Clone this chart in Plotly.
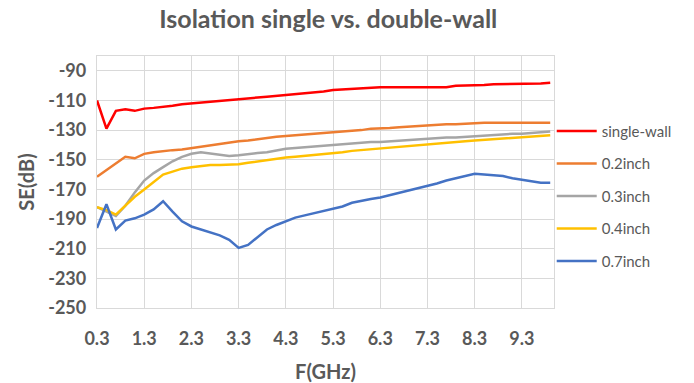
import plotly.graph_objects as go

freq = [round(0.3 + 0.2 * i, 1) for i in range(49)]

single_wall = [-110, -129, -117, -116, -117, -115.5, -115, -114.5, -113.5, -112.5,
               -112, -111.5, -111, -110.5, -110, -109.5, -109, -108, -107.5, -107,
               -106, -105.5, -105, -104.5, -104, -103, -102.5, -102, -101.5, -101,
               -101, -101, -101, -101, -101, -101, -101, -101, -100, -100,
               -100, -99.5, -99, -99, -99, -99, -99, -98.5, -98]

inch_02 = [-161.5, -157, -153, -148, -149, -146, -145, -144, -143.5, -143,
           -142, -141, -140, -139, -138, -137.5, -137, -136, -135.5, -134.5,
           -134, -133.5, -133, -132.5, -132, -131.5, -131, -130.5, -130, -129,
           -128.5, -128.5, -128, -127.5, -127, -127, -126, -126, -126, -125.5,
           -125, -125, -125, -125, -125, -125, -125, -125, -125]

inch_03 = [-182, -185, -188, -181, -172, -164, -159, -155, -151, -148,
           -146, -145, -146, -147, -147.5, -147, -146, -145.5, -145, -143.5,
           -142.5, -142, -141.5, -141, -140.5, -140, -139.5, -139, -138.5, -138,
           -138, -137.5, -137, -136.5, -136, -135.5, -135.5, -135, -135, -134.5,
           -134.5, -134, -133.5, -133, -132.5, -132.5, -132, -131.5, -131]

inch_04 = [-182, -184, -187, -181, -175, -170, -165, -160, -158, -156,
           -155, -154, -153.5, -153.5, -153.5, -153, -152, -151, -150, -149,
           -148.5, -148, -147.5, -146.5, -146, -145.5, -145, -144, -143.5, -143,
           -142.5, -142, -141.5, -141, -140.5, -140, -139.5, -139, -138, -137.5,
           -137, -136.5, -136, -135.5, -135.5, -135, -134.5, -134, -133.5]

inch_07 = [-196, -180, -197, -191, -189.5, -187, -183.5, -178, -185, -191.5,
           -195, -197, -199, -201, -204, -209.5, -207.5, -202, -197, -194,
           -191.5, -189, -187.5, -186, -184.5, -183, -181.5, -179, -177.5, -176.5,
           -175.5, -174, -172, -170.5, -169, -167.5, -166, -164, -162.5, -161,
           -159.5, -160, -160.5, -161, -162.5, -163.5, -165, -165.5, -165.5]

series_names = ["single-wall", "0.2inch", "0.3inch", "0.4inch", "0.7inch"]
series_values = [single_wall, inch_02, inch_03, inch_04, inch_07]
series_colors = ["#FF0000", "#ED7D31", "#A5A5A5", "#FFC000", "#4472C4"]

x_tick_vals = [0.3, 1.3, 2.3, 3.3, 4.3, 5.3, 6.3, 7.3, 8.3, 9.3]
x_tick_text = ["0.3", "1.3", "2.3", "3.3", "4.3", "5.3", "6.3", "7.3", "8.3", "9.3"]
y_tick_vals = [-250, -230, -210, -190, -170, -150, -130, -110, -90]
y_tick_text = ["-250", "-230", "-210", "-190", "-170", "-150", "-130", "-110", "-90"]

TEXT = "#595959"
GRID = "#D9D9D9"
FONT = "Lato, 'Open Sans', sans-serif"

fig = go.Figure()
for name, vals, col in zip(series_names, series_values, series_colors):
    fig.add_trace(go.Scatter(x=freq, y=vals, mode="lines", name=name,
                             legendgroup=name,
                             line=dict(color=col, width=2.5)))

fig.update_layout(
    width=694, height=383,
    margin=dict(l=97, r=140, t=56, b=75),
    paper_bgcolor="white", plot_bgcolor="white",
    font=dict(family=FONT, color=TEXT),
    title=dict(text="<b>Isolation single vs. double-wall</b>",
               x=0.473, xanchor="center", y=0.95, yanchor="middle",
               font=dict(size=25, color=TEXT, family=FONT)),
    showlegend=True,
    legend=dict(x=0.995, xanchor="left", y=0.767, yanchor="top",
                font=dict(size=15, color=TEXT, family=FONT),
                tracegroupgap=10, itemwidth=40,
                bgcolor="rgba(0,0,0,0)"),
    xaxis=dict(range=[0.3, 9.98], tickvals=x_tick_vals,
               ticktext=["<b>" + t + "</b>" for t in x_tick_text],
               showgrid=True, gridcolor=GRID, gridwidth=1.3,
               showline=True, linecolor=GRID, linewidth=1.3, mirror=True,
               zeroline=False, automargin=False,
               ticks="outside", ticklen=14, tickcolor="rgba(0,0,0,0)",
               tickfont=dict(size=18, color=TEXT, family=FONT),
               title=dict(text="<b>F(GHz)</b>", standoff=18,
                          font=dict(size=20, color=TEXT, family=FONT))),
    yaxis=dict(range=[-250, -80], tickvals=y_tick_vals,
               ticktext=["<b>" + t + "</b>" for t in y_tick_text],
               showgrid=True, gridcolor=GRID, gridwidth=1.3,
               showline=True, linecolor=GRID, linewidth=1.3, mirror=True,
               zeroline=False, automargin=False,
               ticks="outside", ticklen=6, tickcolor="rgba(0,0,0,0)",
               tickfont=dict(size=18, color=TEXT, family=FONT),
               title=dict(text="<b>SE(dB)</b>", standoff=8,
                          font=dict(size=20, color=TEXT, family=FONT))),
)

fig.write_html("out.html")
